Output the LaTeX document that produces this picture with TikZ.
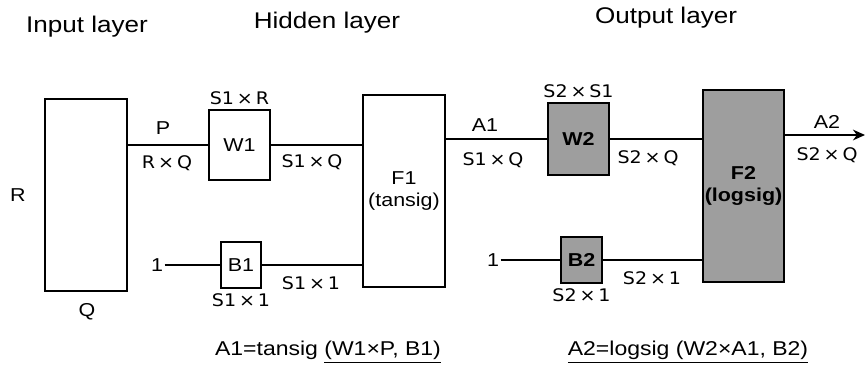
\documentclass[tikz,border=0pt]{standalone}
\usepackage{fontspec}
\setmainfont[FakeStretch=1.15]{Liberation Sans}
\newfontfamily\dimfont[FakeStretch=1.1]{DejaVu Sans}
\usetikzlibrary{arrows.meta,positioning}

\begin{document}
\begin{tikzpicture}[x=0.75pt,y=-0.75pt,
  layer/.style={font=\fontsize{17}{20}\selectfont},
  eqn/.style={font=\fontsize{15}{18}\selectfont},
  dim/.style={font=\dimfont\fontsize{13}{15}\selectfont,inner sep=1pt},
  lbl/.style={font=\fontsize{14}{17}\selectfont,inner sep=1pt},
  box/.style={rectangle,draw,line width=1.5pt,align=center,inner sep=1pt,
              font=\fontsize{14}{17}\selectfont},
  shade/.style={box,fill=black!38,font=\bfseries\fontsize{14}{17}\selectfont},
  wire/.style={line width=1.5pt},
  arrow/.style={wire,-{Stealth[length=9pt,width=8pt]}}]

\useasboundingbox (0,0) rectangle (867,370);

% layer titles
\node[layer] (tin) at (87,27) {Input layer};
\node[layer] (thid) at (327,23) {Hidden layer};
\node[layer] (tout) at (666,18) {Output layer};

% input
\node[box,minimum width=61.5pt,minimum height=144pt] (inp) at (86,195) {};
\node[lbl] (rlab) at (18,195) {R};
\node[lbl] (qlab) at (87,312) {Q};

% hidden layer
\node[box,minimum width=45.75pt,minimum height=52.5pt] (w1) at (239.5,145) {W1};
\node[box,minimum width=30pt,minimum height=34.5pt] (b1) at (241,265) {B1};
\node[box,minimum width=61.5pt,minimum height=144pt] (f1) at (404,191)
  {F1\\(tansig)};
\node[lbl] (one1) at (157,265) {1};

% output layer
\node[shade,minimum width=45.75pt,minimum height=54pt] (w2) at (578.5,139) {W2};
\node[shade,minimum width=30.75pt,minimum height=34.5pt] (b2) at (581.5,260) {B2};
\node[shade,minimum width=60.75pt,minimum height=144pt] (f2) at (743.5,186)
  {F2\\(logsig)};
\node[lbl] (one2) at (493,260) {1};
\coordinate (out) at (865,135);

% connectors
\draw[wire] (w1.west -| inp.east) -- (w1.west);
\draw[wire] (w1.east) -- (w1.east -| f1.west);
\draw[wire] (one1.east) -- (b1.west);
\draw[wire] (b1.east) -- (b1.east -| f1.west);
\draw[wire] (w2.west -| f1.east) -- (w2.west);
\draw[wire] (w2.east) -- (w2.east -| f2.west);
\draw[wire] (one2.east) -- (b2.west);
\draw[wire] (b2.east) -- (b2.east -| f2.west);
\draw[arrow] (out -| f2.east) -- (out);

% sizes
\node[lbl] (plab) at (163,128) {P};
\node[dim] at (167,163) {R\,×\,Q};
\node[dim,above=2pt of w1] {S1\,×\,R};
\node[dim] at (312,162) {S1\,×\,Q};
\node[dim,below=2pt of b1] {S1\,×\,1};
\node[dim] at (311,283) {S1\,×\,1};
\node[lbl] (a1lab) at (485,125) {A1};
\node[dim] at (493,160) {S1\,×\,Q};
\node[dim,above=2pt of w2] {S2\,×\,S1};
\node[dim] at (648,158) {S2\,×\,Q};
\node[dim,below=2pt of b2] {S2\,×\,1};
\node[dim] at (652,278) {S2\,×\,1};
\node[lbl] (a2lab) at (827,122) {A2};
\node[dim] at (827,155) {S2\,×\,Q};

% equations
\node[eqn] (eq1) at (328,352) {A1=tansig \underline{(W1×P, B1)}};
\node[eqn] (eq2) at (688,352) {\underline{A2=logsig (W2×A1, B2)}};
\end{tikzpicture}
\end{document}
